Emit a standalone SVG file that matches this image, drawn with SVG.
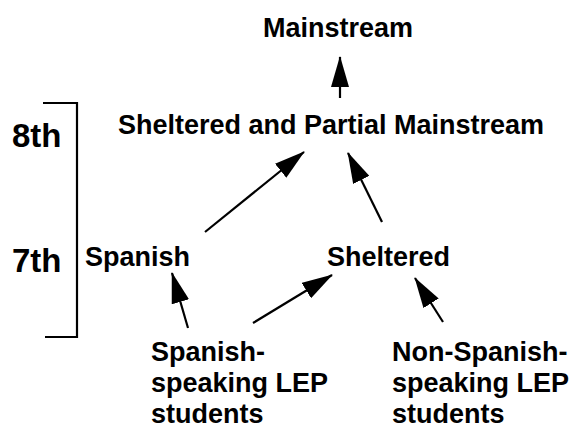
<svg xmlns="http://www.w3.org/2000/svg" width="572" height="428" viewBox="0 0 572 428">
<style>
.t{font-family:"Liberation Sans",Arial,sans-serif;font-weight:bold;font-size:27px;fill:#000}
.g{font-family:"Liberation Sans",Arial,sans-serif;font-weight:bold;font-size:33px;fill:#000}
.c{stroke:#000;stroke-width:2.2;fill:none}
</style>
<defs>
<marker id="ah" markerUnits="userSpaceOnUse" markerWidth="31" markerHeight="18" refX="30" refY="9" orient="auto">
<path d="M0,0 L31,9 L0,18 z" fill="#000"/>
</marker>
</defs>
<rect width="572" height="428" fill="#fff"/>
<g id="grades">
<text class="g" x="12" y="147">8th</text>
<text class="g" x="12" y="272">7th</text>
<path class="c" d="M43,103 H77 V337 H45"/>
</g>
<g id="mainstream"><text class="t" x="338" y="37" text-anchor="middle">Mainstream</text></g>
<g id="sheltered-partial"><text class="t" x="331" y="134" text-anchor="middle">Sheltered and Partial Mainstream</text></g>
<g id="spanish"><text class="t" x="85" y="266">Spanish</text></g>
<g id="sheltered"><text class="t" x="327" y="266">Sheltered</text></g>
<g id="spanish-lep">
<text class="t" x="151" y="361">Spanish-</text>
<text class="t" x="151" y="392">speaking LEP</text>
<text class="t" x="151" y="423">students</text>
</g>
<g id="non-spanish-lep">
<text class="t" x="392" y="361">Non-Spanish-</text>
<text class="t" x="392" y="392">speaking LEP</text>
<text class="t" x="392" y="423">students</text>
</g>
<g id="connectors">
<line class="c" x1="340" y1="98" x2="340" y2="57" marker-end="url(#ah)"/>
<line class="c" x1="205" y1="232" x2="304" y2="152" marker-end="url(#ah)"/>
<line class="c" x1="382" y1="222" x2="348" y2="153" marker-end="url(#ah)"/>
<line class="c" x1="188" y1="328" x2="172" y2="273" marker-end="url(#ah)"/>
<line class="c" x1="253" y1="323" x2="332" y2="275" marker-end="url(#ah)"/>
<line class="c" x1="443" y1="322" x2="415" y2="278" marker-end="url(#ah)"/>
</g>
</svg>
